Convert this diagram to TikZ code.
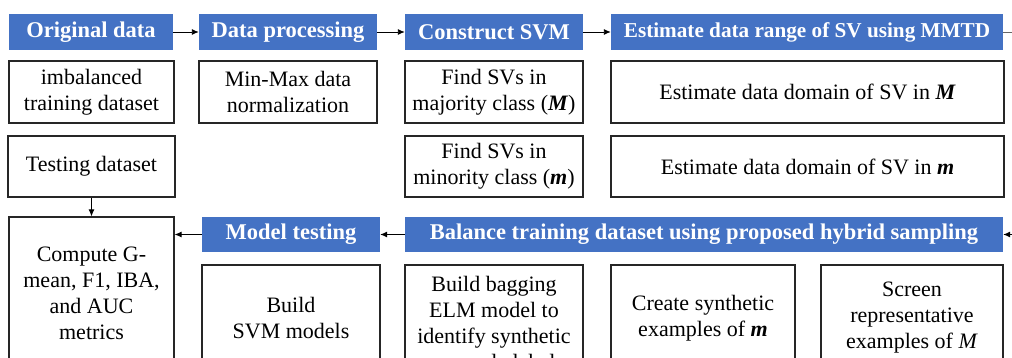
\documentclass[tikz,border=0pt]{standalone}
\usepackage{fontspec}
\setmainfont{Liberation Serif}
\usetikzlibrary{arrows.meta}
\definecolor{hdrblue}{HTML}{4472C4}
\begin{document}
\begin{tikzpicture}[x=1pt,y=-1pt,
  hdr/.style={fill=hdrblue, draw=none, text=white, inner sep=0pt, align=center,
    font=\fontsize{22.5}{26}\selectfont\bfseries},
  box/.style={draw=black!85, line width=1.2pt, fill=white, inner sep=0pt, align=center,
    font=\fontsize{22}{26}\selectfont},
  conn/.style={line width=0.9pt, draw=black, -{Latex[length=7pt,width=6pt]}},
  bi/.style={}]
\useasboundingbox (0,0) rectangle (1012,358);
\clip (0,0) rectangle (1012,358);
\fill[white] (0,0) rectangle (1012,358);

% row 1 headers
\node[hdr, minimum width=164pt, minimum height=36pt] (orig) at (91,32) {Original data};
\node[hdr, minimum width=178pt, minimum height=36pt] (proc) at (288,32) {Data processing};
\node[hdr, minimum width=178pt, minimum height=36pt] (svm) at (494,32) {Construct SVM};
\node[hdr, minimum width=392pt, minimum height=36pt, font=\fontsize{21.2}{25}\selectfont\bfseries] (mmtd) at (807,32) {Estimate data range of SV using MMTD};

% row 2
\node[box, minimum width=165pt, minimum height=62pt] (imb) at (91.5,92) {imbalanced\\training dataset};
\node[box, minimum width=178pt, minimum height=62pt] (minmax) at (288,92) {Min-Max data\\normalization};
\node[box, minimum width=178pt, minimum height=62pt] (findM) at (494,92) {Find SVs in\\majority class (\textbf{\textit{M}})};
\node[box, minimum width=393pt, minimum height=62pt] (estM) at (807.5,92) {Estimate data domain of SV in \textbf{\textit{M}}};

% row 3
\node[box, minimum width=167pt, minimum height=61pt] (test) at (91.5,166.5) {Testing dataset};
\node[box, minimum width=178pt, minimum height=61pt] (findm) at (494,166.5) {Find SVs in\\minority class (\textbf{\textit{m}})};
\node[box, minimum width=393pt, minimum height=61pt] (estm) at (807.5,166.5) {Estimate data domain of SV in \textbf{\textit{m}}};

% row 4 headers
\node[hdr, minimum width=178pt, minimum height=35pt] (modtest) at (291,234.5) {Model testing};
\node[hdr, minimum width=598pt, minimum height=35pt] (bal) at (704,234.5) {Balance training dataset using proposed hybrid sampling};

% compute box
\node[box, minimum width=165pt, minimum height=153pt] (comp) at (91.5,293.5) {Compute G-\\mean, F1, IBA,\\and AUC\\metrics};

% row 5
\node[box, minimum width=178pt, minimum height=106pt] (bsvm) at (291,318) {Build\\SVM models};
\node[box, minimum width=178pt, minimum height=120pt] (bag) at (494,325) {Build bagging\\ELM model to\\identify synthetic\\example label};
\node[box, minimum width=184pt, minimum height=106pt] (synth) at (703,318) {Create synthetic\\examples of \textbf{\textit{m}}};
\node[box, minimum width=182pt, minimum height=106pt] (screen) at (912,318) {Screen\\representative\\examples of \textit{M}};

% free ends
\coordinate (outR) at (1016,32);
\coordinate (inR) at (1016,234.5);

% connectors
\draw[conn] (orig) -- (proc);
\draw[conn] (proc) -- (svm);
\draw[conn] (svm) -- (mmtd);
\draw[line width=0.9pt, draw=black!60] (mmtd) -- (outR);
\draw[conn] (inR) -- (bal);
\draw[conn] (bal) -- (modtest);
\draw[conn] (modtest) -- (modtest.west -| comp.east);
\draw[conn] (test) -- (test.south |- comp.north);
\end{tikzpicture}
\end{document}
